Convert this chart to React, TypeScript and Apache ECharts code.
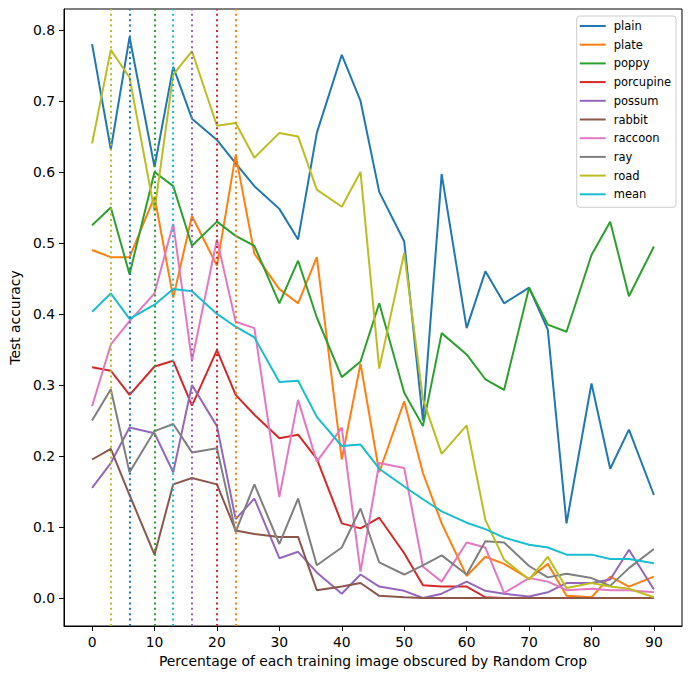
import React, { useEffect, useRef } from "react";
import * as echarts from "echarts";

const xs = [0, 3, 6, 10, 13, 16, 20, 23, 26, 30, 33, 36, 40, 43, 46, 50, 53, 56, 60, 63, 66, 70, 73, 76, 80, 83, 86, 90];

const plain = [0.78, 0.632, 0.79, 0.607, 0.748, 0.675, 0.645, 0.612, 0.58, 0.548, 0.505, 0.655, 0.765, 0.7, 0.572, 0.502, 0.25, 0.597, 0.38, 0.46, 0.415, 0.437, 0.378, 0.105, 0.302, 0.182, 0.237, 0.145];
const plate = [0.49, 0.48, 0.48, 0.565, 0.423, 0.538, 0.468, 0.624, 0.485, 0.435, 0.415, 0.48, 0.195, 0.33, 0.177, 0.277, 0.176, 0.105, 0.031, 0.058, 0.048, 0.027, 0.048, 0.003, 0.001, 0.03, 0.016, 0.03];
const poppy = [0.525, 0.55, 0.456, 0.6, 0.58, 0.496, 0.53, 0.51, 0.496, 0.415, 0.475, 0.395, 0.311, 0.333, 0.415, 0.289, 0.242, 0.373, 0.343, 0.308, 0.293, 0.437, 0.385, 0.375, 0.483, 0.53, 0.425, 0.495];
const porcupine = [0.325, 0.32, 0.286, 0.326, 0.334, 0.271, 0.349, 0.286, 0.258, 0.225, 0.23, 0.196, 0.105, 0.098, 0.113, 0.063, 0.018, 0.016, 0.016, 0.001, 0, 0, 0, 0, 0, 0, 0, 0];
const possum = [0.155, 0.19, 0.24, 0.232, 0.177, 0.3, 0.242, 0.111, 0.14, 0.056, 0.065, 0.036, 0.006, 0.033, 0.016, 0.01, 0.0, 0.006, 0.023, 0.01, 0.006, 0.002, 0.008, 0.021, 0.021, 0.026, 0.068, 0.012];
const rabbit = [0.195, 0.21, 0.145, 0.061, 0.16, 0.169, 0.16, 0.095, 0.09, 0.086, 0.086, 0.011, 0.016, 0.021, 0.003, 0.001, 0, 0, 0, 0, 0, 0, 0, 0, 0, 0, 0, 0];
const raccoon = [0.27, 0.357, 0.39, 0.429, 0.527, 0.334, 0.505, 0.389, 0.38, 0.142, 0.279, 0.192, 0.24, 0.037, 0.19, 0.183, 0.044, 0.023, 0.078, 0.071, 0.007, 0.028, 0.023, 0.011, 0.013, 0.011, 0.011, 0.008];
const ray = [0.25, 0.294, 0.177, 0.235, 0.245, 0.205, 0.211, 0.093, 0.16, 0.076, 0.14, 0.046, 0.071, 0.126, 0.05, 0.033, 0.046, 0.06, 0.033, 0.08, 0.078, 0.045, 0.029, 0.034, 0.028, 0.017, 0.042, 0.069];
const road = [0.64, 0.772, 0.733, 0.545, 0.737, 0.77, 0.665, 0.669, 0.62, 0.655, 0.65, 0.575, 0.551, 0.6, 0.323, 0.486, 0.28, 0.203, 0.243, 0.11, 0.054, 0.026, 0.058, 0.014, 0.021, 0.016, 0.013, 0.001];
const mean = [0.403, 0.429, 0.393, 0.413, 0.435, 0.432, 0.4, 0.382, 0.367, 0.304, 0.306, 0.255, 0.214, 0.216, 0.182, 0.157, 0.139, 0.122, 0.106, 0.097, 0.085, 0.075, 0.071, 0.061, 0.061, 0.055, 0.055, 0.049];

const seriesNames = ["plain", "plate", "poppy", "porcupine", "possum", "rabbit", "raccoon", "ray", "road", "mean"];
const seriesValues = [plain, plate, poppy, porcupine, possum, rabbit, raccoon, ray, road, mean];
const colors = ["#1f77b4", "#ff7f0e", "#2ca02c", "#d62728", "#9467bd", "#8c564b", "#e377c2", "#7f7f7f", "#bcbd22", "#17becf"];
// series whose best-accuracy position is marked by a dotted vertical line
const markedSeries = ["road", "plain", "poppy", "mean", "possum", "porcupine", "plate"];

const xTicks = [0, 10, 20, 30, 40, 50, 60, 70, 80, 90];
const yTicks = [0, 0.1, 0.2, 0.3, 0.4, 0.5, 0.6, 0.7, 0.8];

const FONT = "DejaVu Sans";

export default function App() {
  const ref = useRef<HTMLDivElement>(null);
  useEffect(() => {
    if (!ref.current) return;
    const chart = echarts.init(ref.current, undefined, { renderer: "svg" });
    const lineSeries = seriesNames.map((name, i) => {
      const vals = seriesValues[i];
      const s: any = {
        name,
        type: "line",
        data: xs.map((x, j) => [x, vals[j]]),
        symbol: "none",
        lineStyle: { color: colors[i], width: 2 },
        itemStyle: { color: colors[i] },
        z: 2,
      };
      if (markedSeries.includes(name)) {
        let best = 0;
        for (let j = 1; j < vals.length; j++) if (vals[j] > vals[best]) best = j;
        s.markLine = {
          silent: true,
          symbol: "none",
          label: { show: false },
          animation: false,
          lineStyle: { color: colors[i], type: [2, 3.4], width: 2 },
          data: [{ xAxis: xs[best] }],
        };
      }
      return s;
    });
    chart.setOption({
      animation: false,
      backgroundColor: "#fff",
      textStyle: { fontFamily: FONT },
      grid: {
        left: 62,
        right: 9,
        top: 9,
        bottom: 53,
        show: true,
        borderColor: "#000",
        borderWidth: 1,
        containLabel: false,
      },
      legend: {
        data: seriesNames,
        orient: "vertical",
        right: 15,
        top: 16,
        icon: "rect",
        itemWidth: 26,
        itemHeight: 2,
        itemGap: 4.7,
        padding: [3, 5, 6, 3],
        borderColor: "#cccccc",
        borderWidth: 1,
        borderRadius: 3,
        backgroundColor: "rgba(255,255,255,0.8)",
        textStyle: { fontFamily: FONT, fontSize: 11.5, color: "#000", lineHeight: 14, padding: [0, 0, 0, 3] },
      },
      xAxis: {
        type: "value",
        min: -4.5,
        max: 94.5,
        name: "Percentage of each training image obscured by Random Crop",
        nameLocation: "middle",
        nameGap: 28,
        nameTextStyle: { fontFamily: FONT, fontSize: 13.9, color: "#000" },
        splitLine: { show: false },
        axisLine: { onZero: false, lineStyle: { color: "#000", width: 1 } },
        axisTick: { show: true, length: 5, lineStyle: { color: "#000" }, customValues: xTicks },
        axisLabel: {
          customValues: xTicks,
          fontFamily: FONT,
          fontSize: 13.9,
          color: "#000",
          margin: 9,
          formatter: (v: number) => String(v),
        },
      },
      yAxis: {
        type: "value",
        min: -0.0395,
        max: 0.8295,
        name: "Test accuracy",
        nameLocation: "middle",
        nameGap: 40,
        nameTextStyle: { fontFamily: FONT, fontSize: 13.9, color: "#000" },
        splitLine: { show: false },
        axisLine: { show: true, onZero: false, lineStyle: { color: "#000", width: 1 } },
        axisTick: { show: true, length: 5, lineStyle: { color: "#000" }, customValues: yTicks },
        axisLabel: {
          customValues: yTicks,
          fontFamily: FONT,
          fontSize: 13.9,
          color: "#000",
          margin: 9,
          formatter: (v: number) => v.toFixed(1),
        },
      },
      series: lineSeries,
    });
    return () => chart.dispose();
  }, []);
  return <div ref={ref} style={{ position: "fixed", left: 0, top: 0, width: 691, height: 679 }} />;
}
